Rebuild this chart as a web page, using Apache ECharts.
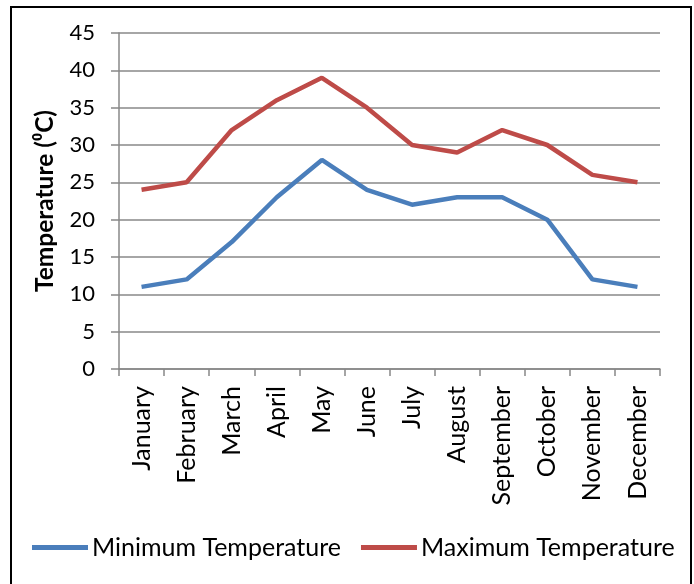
<!DOCTYPE html>
<html><head><meta charset="utf-8">
<script src="https://cdn.jsdelivr.net/npm/echarts@6/dist/echarts.min.js"></script>
<style>html,body{margin:0;padding:0;background:#fff}#c{width:694px;height:584px}</style>
</head><body><div id="c"></div>
<script>
const months = ['January','February','March','April','May','June','July','August','September','October','November','December'];
const minTemp = [11,12,17,23,28,24,22,23,23,20,12,11];
const maxTemp = [24,25,32,36,39,35,30,29,32,30,26,25];
const chart = echarts.init(document.getElementById('c'));
const F = 'Lato, "Open Sans", sans-serif';
chart.setOption({
  animation:false,
  graphic:[{type:'rect',shape:{x:11,y:7,width:680,height:600},style:{fill:'none',stroke:'#000',lineWidth:2},silent:true}],
  grid:{left:119,right:34,top:33,bottom:215},
  legend:{top:535,left:32,padding:0,itemWidth:56,itemHeight:5,itemGap:20,icon:'rect',
    textStyle:{fontFamily:F,fontSize:25,color:'#000',padding:[0,0,0,-1]},
    data:['Minimum Temperature','Maximum Temperature']},
  xAxis:{type:'category',data:months,boundaryGap:true,
    axisLine:{lineStyle:{color:'#888',width:1.5}},
    axisTick:{show:true,length:7,lineStyle:{color:'#888',width:1.5}},
    axisLabel:{rotate:90,fontFamily:F,fontSize:25,color:'#000',margin:17,interval:0}},
  yAxis:{type:'value',min:0,max:45,interval:5,
    name:'Temperature (⁰C)',nameLocation:'middle',nameGap:61,nameRotate:90,
    nameTextStyle:{fontFamily:F,fontSize:24.5,fontWeight:'bold',color:'#000'},
    axisLine:{show:true,lineStyle:{color:'#888',width:1.5}},
    axisTick:{show:true,length:8,lineStyle:{color:'#888',width:1.5}},
    axisLabel:{fontFamily:F,fontSize:22,color:'#000',margin:24},
    splitLine:{lineStyle:{color:'#888',width:1.5}}},
  series:[
    {name:'Minimum Temperature',type:'line',data:minTemp,symbol:'none',color:'#4a7ebb',lineStyle:{width:4.5,color:'#4a7ebb'}},
    {name:'Maximum Temperature',type:'line',data:maxTemp,symbol:'none',color:'#be4b48',lineStyle:{width:4.5,color:'#be4b48'}}
  ]
});
</script></body></html>
